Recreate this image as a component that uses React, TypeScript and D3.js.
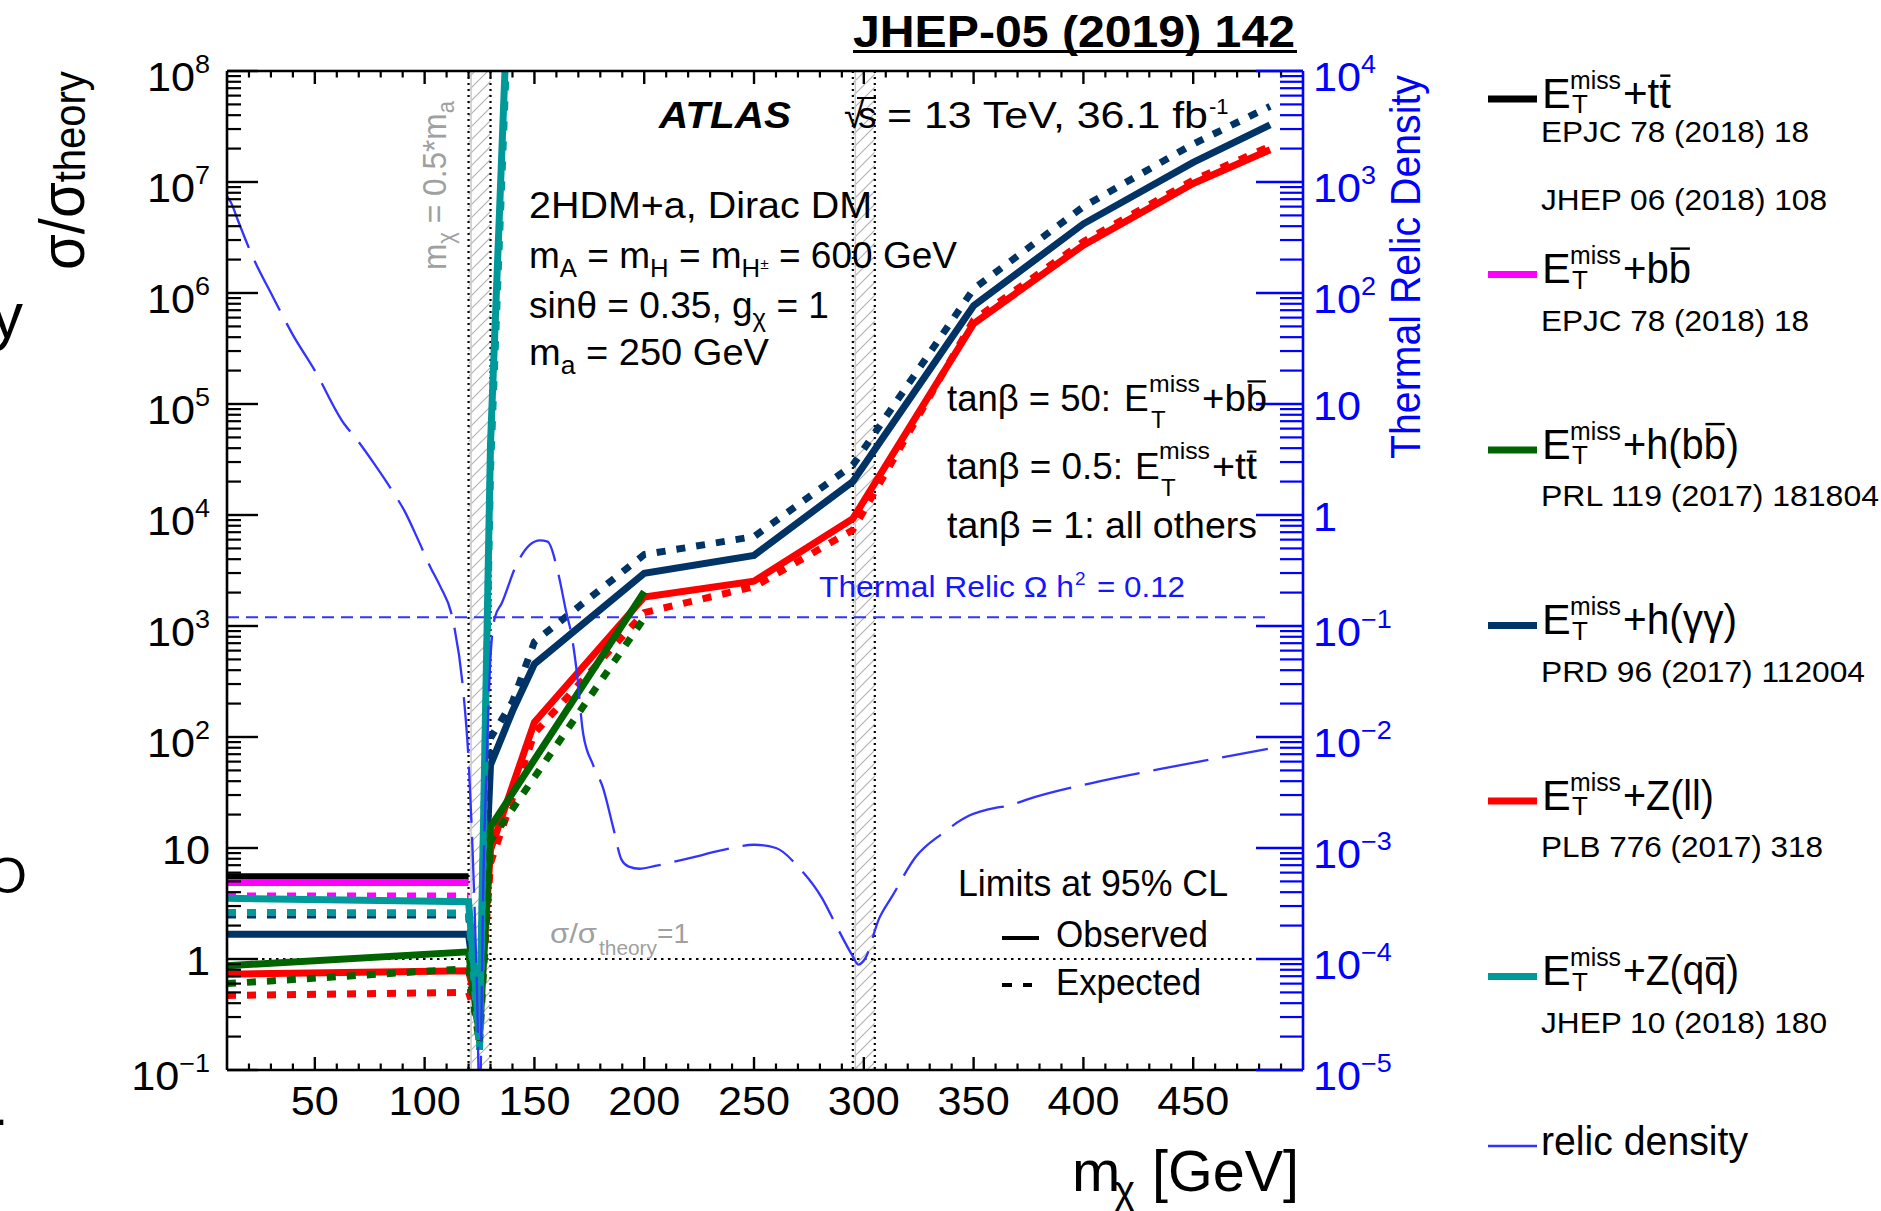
import React from 'react';
import * as d3 from 'd3';

type P = [number, number];

// ---------------- data ----------------
const xTickValues = [50, 100, 150, 200, 250, 300, 350, 400, 450];
const leftDecades = [1e-1, 1, 1e1, 1e2, 1e3, 1e4, 1e5, 1e6, 1e7, 1e8];
const leftTickBase = ['10', '1', '10', '10', '10', '10', '10', '10', '10', '10'];
const leftTickExp = ['\u22121', '', '', '2', '3', '4', '5', '6', '7', '8'];
const rightDecades = [1e-5, 1e-4, 1e-3, 1e-2, 1e-1, 1, 1e1, 1e2, 1e3, 1e4];
const rightTickBase = ['10', '10', '10', '10', '10', '1', '10', '10', '10', '10'];
const rightTickExp = ['\u22125', '\u22124', '\u22123', '\u22122', '\u22121', '', '', '2', '3', '4'];

const excludedBands: P[] = [[120, 130], [295, 305]];
const thermalRelicValue = 0.12;
const thermalRelicRange: P = [10, 485];
const theoryRatio = 1;

const ttObs: P[] = [[10, 5.5], [120, 5.5]];
const bbObs: P[] = [[10, 4.9], [120, 4.9]];
const bbExp: P[] = [[10, 3.7], [120, 3.7]];
const hbbObs: P[] = [[10, 0.87], [120, 1.16], [125, 0.2], [130, 15.5], [200, 2040]];
const hbbExp: P[] = [[10, 0.6], [120, 0.82], [125, 0.17], [130, 11.6], [200, 1180]];
const hggObs: P[] = [[10, 1.67], [120, 1.67], [125, 0.3], [130, 56], [140, 171], [150, 454], [200, 2985], [250, 4325], [295, 2.0e4], [350, 7.67e5], [400, 4.2e6], [450, 1.5e7], [485, 3.27e7]];
const hggExp: P[] = [[10, 2.49], [120, 2.49], [125, 0.25], [130, 98], [140, 207], [150, 720], [200, 4400], [250, 6390], [295, 2.82e4], [350, 1.09e6], [400, 6.0e6], [450, 2.2e7], [485, 4.8e7]];
const zllObs: P[] = [[10, 0.73], [120, 0.785], [125, 0.3], [130, 9.6], [150, 136], [200, 1824], [250, 2530], [295, 9260], [350, 5.3e5], [400, 2.7e6], [450, 9.7e6], [485, 1.95e7]];
const zllExp: P[] = [[10, 0.47], [120, 0.5], [125, 0.25], [130, 7.3], [150, 108], [200, 1320], [250, 2260], [295, 7330], [350, 5.7e5], [400, 2.9e6], [450, 1.04e7], [485, 2.1e7]];
const zqqObs: P[] = [[10, 3.52], [120, 3.28], [125, 0.2], [130, 4.4e4], [140, 5.5e9]];
const zqqExp: P[] = [[10, 2.63], [120, 2.6], [125, 0.15], [130, 2.5e4], [140, 3e9]];

// relic density (right axis units)
const relicDensity: P[] = [
  [10, 741], [11.7, 660], [15, 450], [19.8, 260], [22.8, 190], [30, 100], [40, 42], [50, 20],
  [63.4, 6.6], [68.4, 5.0], [77, 2.9], [85.7, 1.6], [90.7, 1.1], [97, 0.6], [102.9, 0.33], [107, 0.23],
  [113, 0.11], [117.7, 0.0245], [120, 6.2e-3], [122.2, 6.0e-4], [124, 3.8e-5], [125, 4e-6], [126.8, 6.0e-4],
  [128.3, 6.2e-3], [129.8, 0.044], [132, 0.12], [135.1, 0.16], [141.9, 0.36], [148, 0.54], [152.5, 0.59],
  [156, 0.575], [160.8, 0.3], [164.6, 0.13], [166.9, 0.083], [169.2, 0.04], [172.2, 0.0107], [176.7, 5.6e-3],
  [181.2, 3.5e-3], [185.8, 1.55e-3], [189.6, 7.9e-4], [193, 6.8e-4], [197.9, 6.5e-4], [205, 6.9e-4],
  [220.6, 8.1e-4], [235, 9.5e-4], [250, 1.07e-3], [260, 1.0e-3], [270.6, 6.6e-4], [281.1, 3.5e-4],
  [288, 1.9e-4], [294.5, 1.1e-4], [297.5, 8.9e-5], [300.5, 1.0e-4], [306.9, 2.3e-4], [313, 3.7e-4],
  [323.6, 8.3e-4], [335.7, 1.35e-3], [347.8, 1.95e-3], [359.9, 2.3e-3], [366, 2.4e-3], [373.5, 2.7e-3],
  [403.8, 3.85e-3], [434, 5.1e-3], [484, 7.8e-3],
];

const legendColors = ['#000000', '#ff00ff', '#006400', '#003366', '#ff0000', '#009999'];
// label text after "E_T^miss"; barIndex marks the character carrying an overline (-1: none)
const legendNames = ['+tt', '+bb', '+h(bb)', '+h(\u03b3\u03b3)', '+Z(ll)', '+Z(qq)'];
const legendBarIndex = [2, 2, 4, -1, -1, 4];
const legendRefs: string[][] = [
  ['EPJC 78 (2018) 18', 'JHEP 06 (2018) 108'], ['EPJC 78 (2018) 18'], ['PRL 119 (2017) 181804'],
  ['PRD 96 (2017) 112004'], ['PLB 776 (2017) 318'], ['JHEP 10 (2018) 180'],
];

// ---------------- layout / style ----------------
const W = 1881, H = 1211;
const X0 = 227, X1 = 1303, Y0 = 71, Y1 = 1070;
const FONT = "'Liberation Sans', Arial, Helvetica, sans-serif";
const BLACK = '#000000', MAGENTA = '#ff00ff', GREEN = '#006400', NAVY = '#003366', RED = '#ff0000', TEAL = '#009999';
const RELIC = '#3333ff', AXBLUE = '#0000ff', GRAY = '#a0a0a0';
const SX = 1.08;
const LW = 7;
const DASH = '9 11';

const legendNameW = [48, 68, 116, 114, 91, 116];
const legendRefW = [[268, 286], [268], [338], [324], [282], [286]];

// approximate Liberation Sans advance widths (em) for overline placement
const ADV: Record<string, number> = { '+': 0.584, t: 0.278, b: 0.556, h: 0.556, '(': 0.333, ')': 0.333, q: 0.556, Z: 0.611, l: 0.222, '\u03b3': 0.5 };
const BARH: Record<string, number> = { t: 0.74, b: 0.8, q: 0.62 };

function barFor(str: string, idx: number, x0: number, w: number, fs: number, base: number) {
  const chars = Array.from(str);
  const total = chars.reduce((s, c) => s + (ADV[c] || 0.556), 0);
  const k = w / (total * fs);
  const before = chars.slice(0, idx).reduce((s, c) => s + (ADV[c] || 0.556), 0);
  const cw = (ADV[chars[idx]] || 0.556) * fs * k;
  const bx = x0 + before * fs * k;
  const by = base - (BARH[chars[idx]] || 0.75) * fs;
  return { x1: bx + cw * 0.08, x2: bx + cw * 0.95, y: by };
}

export default function App() {
  const x = d3.scaleLinear().domain([10, 500]).range([X0, X1]);
  const yL = d3.scaleLog().domain([0.1, 1e8]).range([Y1, Y0]);
  const yR = d3.scaleLog().domain([1e-5, 1e4]).range([Y1, Y0]);
  const line = d3.line<P>().x(d => x(d[0])).y(d => yL(d[1]));
  const relicLine = d3.line<P>().x(d => x(d[0])).y(d => yR(d[1])).curve(d3.curveMonotoneX);

  const series = [
    { d: hggExp, c: NAVY, dash: true }, { d: hggObs, c: NAVY },
    { d: zllExp, c: RED, dash: true }, { d: zllObs, c: RED },
    { d: hbbExp, c: GREEN, dash: true }, { d: hbbObs, c: GREEN },
    { d: ttObs, c: BLACK },
    { d: bbExp, c: MAGENTA, dash: true }, { d: bbObs, c: MAGENTA },
    { d: zqqExp, c: TEAL, dash: true }, { d: zqqObs, c: TEAL },
  ];

  const xMinor = d3.range(20, 500, 10).filter(v => v % 50 !== 0);
  const logMinor = (decs: number[]) => {
    const out: number[] = [];
    decs.slice(0, -1).forEach(d => { for (let k = 2; k <= 9; k++) out.push(d * k); });
    return out;
  };
  const leftMinor = logMinor(leftDecades);
  const rightMinor = logMinor(rightDecades);

  const legendY = legendColors.map((_, i) => 99 + 175.5 * i);
  const bar1 = barFor('+bb', 2, 1202, 65, 37, 411);
  const bar2 = barFor('+tt', 2, 1212, 45, 37, 479);

  return (
    <svg width={W} height={H} style={{ position: 'absolute', left: 0, top: 0, background: '#fff' }} fontFamily={FONT}>
      <defs>
        <clipPath id="plotClip"><rect x={X0} y={Y0} width={X1 - X0} height={Y1 - Y0} /></clipPath>
        <pattern id="hatch" patternUnits="userSpaceOnUse" width="13" height="13">
          <path d="M-1,14 L14,-1 M-4,4 L4,-4 M9,17 L17,9" stroke="#b4b4b4" strokeWidth="1.2" />
        </pattern>
      </defs>
      <rect x={0} y={0} width={W} height={H} fill="#fff" />

      {/* cropped neighbouring text at left edge */}
      <text x={-9} y={338} fontSize={64}>y</text>
      <text x={-12} y={893} fontSize={50}>O</text>
      <text x={-6} y={1125} fontSize={50}>.</text>

      {/* title */}
      <text x={853} y={47} fontSize={45} fontWeight="bold" textLength={442} lengthAdjust="spacingAndGlyphs">JHEP-05 (2019) 142</text>
      <line x1={853} x2={1297} y1={51.5} y2={51.5} stroke="#000" strokeWidth={3} />

      {/* exclusion bands */}
      {excludedBands.map(([a, b], i) => (
        <g key={'band' + i}>
          <rect x={x(a)} y={Y0} width={x(b) - x(a)} height={Y1 - Y0} fill="url(#hatch)" />
          <line x1={x(a) + 2.5} x2={x(a) + 2.5} y1={Y0} y2={Y1} stroke="#c8c8c8" strokeWidth={1.5} />
          <line x1={x(a)} x2={x(a)} y1={Y0} y2={Y1} stroke="#000" strokeWidth={2.2} strokeDasharray="2 4" />
          <line x1={x(b)} x2={x(b)} y1={Y0} y2={Y1} stroke="#000" strokeWidth={2.2} strokeDasharray="2 4" />
        </g>
      ))}

      {/* sigma/sigma_theory = 1 */}
      <line x1={X0} x2={X1} y1={yL(theoryRatio)} y2={yL(theoryRatio)} stroke="#000" strokeWidth={2.2} strokeDasharray="2.5 4.5" />
      {/* thermal relic line */}
      <line x1={x(thermalRelicRange[0])} x2={x(thermalRelicRange[1])} y1={yR(thermalRelicValue)} y2={yR(thermalRelicValue)} stroke={RELIC} strokeWidth={2} strokeDasharray="12 7" />

      {/* limit curves */}
      <g clipPath="url(#plotClip)">
        {series.map((s, i) => (
          <path key={'s' + i} d={line(s.d) || ''} fill="none" stroke={s.c} strokeWidth={LW} strokeDasharray={s.dash ? DASH : undefined} />
        ))}
        <path d={relicLine(relicDensity) || ''} fill="none" stroke={RELIC} strokeWidth={2.3} strokeDasharray="56 14" />
      </g>

      {/* axes frame */}
      <line x1={X0} x2={X0} y1={Y0} y2={Y1} stroke="#000" strokeWidth={2.6} />
      <line x1={X0} x2={X1} y1={Y1} y2={Y1} stroke="#000" strokeWidth={2.6} />
      <line x1={X0} x2={X1} y1={Y0} y2={Y0} stroke="#000" strokeWidth={2.6} />
      <line x1={X1} x2={X1} y1={Y0} y2={Y1} stroke={AXBLUE} strokeWidth={2.6} />

      {/* x ticks bottom & top */}
      {xTickValues.map(v => (
        <g key={'xt' + v}>
          <line x1={x(v)} x2={x(v)} y1={Y1} y2={Y1 - 13} stroke="#000" strokeWidth={2.4} />
          <line x1={x(v)} x2={x(v)} y1={Y0} y2={Y0 + 13} stroke="#000" strokeWidth={2.4} />
          <text transform={`translate(${x(v)},1115) scale(${SX},1)`} textAnchor="middle" fontSize={40}>{v}</text>
        </g>
      ))}
      {xMinor.map(v => (
        <g key={'xm' + v}>
          <line x1={x(v)} x2={x(v)} y1={Y1} y2={Y1 - 6.5} stroke="#000" strokeWidth={2.2} />
          <line x1={x(v)} x2={x(v)} y1={Y0} y2={Y0 + 6.5} stroke="#000" strokeWidth={2.2} />
        </g>
      ))}

      {/* left y ticks */}
      {leftDecades.map((v, i) => (
        <g key={'yl' + i}>
          <line x1={X0} x2={X0 + 31} y1={yL(v)} y2={yL(v)} stroke="#000" strokeWidth={2.4} />
          <text transform={`translate(210,${yL(v) + (leftTickExp[i] ? 20 : 16)}) scale(${SX},1)`} textAnchor="end" fontSize={40}>
            {leftTickBase[i]}
            {leftTickExp[i] ? <tspan fontSize={25} dy={-18}>{leftTickExp[i]}</tspan> : null}
          </text>
        </g>
      ))}
      {leftMinor.map((v, i) => (
        <line key={'ylm' + i} x1={X0} x2={X0 + 14} y1={yL(v)} y2={yL(v)} stroke="#000" strokeWidth={2.2} />
      ))}

      {/* right y ticks */}
      {rightDecades.map((v, i) => (
        <g key={'yr' + i}>
          <line x1={X1} x2={X1 - 47} y1={yR(v)} y2={yR(v)} stroke={AXBLUE} strokeWidth={2.4} />
          <text transform={`translate(1313,${yR(v) + (rightTickExp[i] ? 20 : 16)}) scale(${SX},1)`} fontSize={40} fill={AXBLUE}>
            {rightTickBase[i]}
            {rightTickExp[i] ? <tspan fontSize={25} dy={-18}>{rightTickExp[i]}</tspan> : null}
          </text>
        </g>
      ))}
      {rightMinor.map((v, i) => (
        <line key={'yrm' + i} x1={X1} x2={X1 - 23} y1={yR(v)} y2={yR(v)} stroke={AXBLUE} strokeWidth={2.2} />
      ))}

      {/* axis titles */}
      <text transform={`translate(84,270) scale(1.1,1) rotate(-90)`} fontSize={58}>
        {'\u03c3/\u03c3'}<tspan fontSize={40} dy={1}>theory</tspan>
      </text>
      <text transform={`translate(1420,459) scale(1.1,1) rotate(-90)`} fontSize={39} fill={AXBLUE} textLength={384} lengthAdjust="spacingAndGlyphs">Thermal Relic Density</text>
      <text x={1072} y={1191} fontSize={58}>m</text>
      <text x={1114} y={1204} fontSize={40}>{'\u03c7'}</text>
      <text x={1152} y={1191} fontSize={58} textLength={147} lengthAdjust="spacingAndGlyphs">[GeV]</text>

      {/* m_chi = 0.5*m_a label */}
      <text transform={`translate(446,270) scale(1.1,1) rotate(-90)`} fontSize={30} fill={GRAY} textLength={169} lengthAdjust="spacingAndGlyphs">
        m<tspan fontSize={21} dy={7}>{'\u03c7'}</tspan><tspan dy={-7}>{' = 0.5*m'}</tspan><tspan fontSize={21} dy={7}>a</tspan>
      </text>

      {/* ATLAS label */}
      <text x={659} y={128} fontSize={37} fontWeight="bold" fontStyle="italic" textLength={132} lengthAdjust="spacingAndGlyphs">ATLAS</text>
      <text x={844} y={128} fontSize={37}>{'\u221a'}</text>
      <text x={858} y={128} fontSize={37}>s</text>
      <line x1={857} x2={876} y1={98} y2={98} stroke="#000" strokeWidth={2} />
      <text x={887} y={128} fontSize={37} textLength={321} lengthAdjust="spacingAndGlyphs">= 13 TeV, 36.1 fb</text>
      <text x={1209} y={114} fontSize={22}>-1</text>

      {/* model text */}
      <text x={529} y={218} fontSize={36} textLength={343} lengthAdjust="spacingAndGlyphs">2HDM+a, Dirac DM</text>
      <text x={529} y={268} fontSize={36} textLength={428} lengthAdjust="spacingAndGlyphs">
        m<tspan fontSize={25} dy={9}>A</tspan><tspan dy={-9}>{' = m'}</tspan><tspan fontSize={25} dy={9}>H</tspan><tspan dy={-9}>{' = m'}</tspan><tspan fontSize={25} dy={9}>H</tspan><tspan fontSize={15} dy={-8}>{'\u00b1'}</tspan><tspan dy={-1}>{' = 600 GeV'}</tspan>
      </text>
      <text x={529} y={318} fontSize={36} textLength={300} lengthAdjust="spacingAndGlyphs">
        {'sin\u03b8 = 0.35, g'}<tspan fontSize={25} dy={9}>{'\u03c7'}</tspan><tspan dy={-9}>{' = 1'}</tspan>
      </text>
      <text x={529} y={365} fontSize={36} textLength={240} lengthAdjust="spacingAndGlyphs">
        m<tspan fontSize={25} dy={9}>a</tspan><tspan dy={-9}>{' = 250 GeV'}</tspan>
      </text>

      {/* tan beta text */}
      <text x={947} y={411} fontSize={37} textLength={164} lengthAdjust="spacingAndGlyphs">{'tan\u03b2 = 50:'}</text>
      <text x={1124} y={411} fontSize={37}>E</text>
      <text x={1149} y={392} fontSize={24} textLength={51} lengthAdjust="spacingAndGlyphs">miss</text>
      <text x={1151} y={428} fontSize={24}>T</text>
      <text x={1202} y={411} fontSize={37} textLength={65} lengthAdjust="spacingAndGlyphs">+bb</text>
      <line x1={bar1.x1} x2={bar1.x2} y1={bar1.y} y2={bar1.y} stroke="#000" strokeWidth={2.2} />

      <text x={947} y={479} fontSize={37} textLength={176} lengthAdjust="spacingAndGlyphs">{'tan\u03b2 = 0.5:'}</text>
      <text x={1135} y={479} fontSize={37}>E</text>
      <text x={1159} y={459} fontSize={24} textLength={51} lengthAdjust="spacingAndGlyphs">miss</text>
      <text x={1161} y={496} fontSize={24}>T</text>
      <text x={1212} y={479} fontSize={37} textLength={45} lengthAdjust="spacingAndGlyphs">+tt</text>
      <line x1={bar2.x1} x2={bar2.x2} y1={bar2.y} y2={bar2.y} stroke="#000" strokeWidth={2.2} />

      <text x={947} y={538} fontSize={37} textLength={310} lengthAdjust="spacingAndGlyphs">{'tan\u03b2 = 1: all others'}</text>

      {/* thermal relic label */}
      <text x={819} y={597} fontSize={29} fill="#1515ff" textLength={255} lengthAdjust="spacingAndGlyphs">{'Thermal Relic \u03a9 h'}</text>
      <text x={1075} y={585} fontSize={19} fill="#1515ff">2</text>
      <text x={1097} y={597} fontSize={29} fill="#1515ff" textLength={88} lengthAdjust="spacingAndGlyphs">= 0.12</text>

      {/* sigma/sigma_theory = 1 label */}
      <text x={550} y={943} fontSize={28} fill={GRAY} textLength={47} lengthAdjust="spacingAndGlyphs">{'\u03c3/\u03c3'}</text>
      <text x={599} y={955} fontSize={20} fill={GRAY} textLength={58} lengthAdjust="spacingAndGlyphs">theory</text>
      <text x={657} y={943} fontSize={28} fill={GRAY} textLength={32} lengthAdjust="spacingAndGlyphs">=1</text>

      {/* Limits legend */}
      <text x={958} y={896} fontSize={36} textLength={270} lengthAdjust="spacingAndGlyphs">Limits at 95% CL</text>
      <line x1={1002} x2={1039} y1={938} y2={938} stroke="#000" strokeWidth={4} />
      <text x={1056} y={947} fontSize={36} textLength={152} lengthAdjust="spacingAndGlyphs">Observed</text>
      <line x1={1002} x2={1012} y1={985} y2={985} stroke="#000" strokeWidth={4} />
      <line x1={1023} x2={1032} y1={985} y2={985} stroke="#000" strokeWidth={4} />
      <text x={1056} y={995} fontSize={36} textLength={145} lengthAdjust="spacingAndGlyphs">Expected</text>

      {/* right legend */}
      {legendColors.map((c, i) => {
        const ly = legendY[i];
        const bi = legendBarIndex[i];
        const bar = bi >= 0 ? barFor(legendNames[i], bi, 1623, legendNameW[i], 43, ly + 8.5) : null;
        return (
          <g key={'lg' + i}>
            <line x1={1488} x2={1537} y1={ly} y2={ly} stroke={c} strokeWidth={7} />
            <text x={1542} y={ly + 8.5} fontSize={43}>E</text>
            <text x={1570} y={ly - 10.5} fontSize={26} textLength={51} lengthAdjust="spacingAndGlyphs">miss</text>
            <text x={1572} y={ly + 14} fontSize={26}>T</text>
            <text x={1623} y={ly + 8.5} fontSize={43} textLength={legendNameW[i]} lengthAdjust="spacingAndGlyphs">{legendNames[i]}</text>
            {bar ? <line x1={bar.x1} x2={bar.x2} y1={bar.y} y2={bar.y} stroke="#000" strokeWidth={2.4} /> : null}
            {legendRefs[i].map((r, j) => (
              <text key={'r' + j} x={1541} y={ly + (legendRefs[i].length > 1 ? (j === 0 ? 43 : 111) : 56)} fontSize={29} textLength={legendRefW[i][j]} lengthAdjust="spacingAndGlyphs">{r}</text>
            ))}
          </g>
        );
      })}
      <line x1={1488} x2={1537} y1={1146} y2={1146} stroke={RELIC} strokeWidth={2.5} />
      <text x={1541} y={1155} fontSize={40} textLength={207} lengthAdjust="spacingAndGlyphs">relic density</text>
    </svg>
  );
}
